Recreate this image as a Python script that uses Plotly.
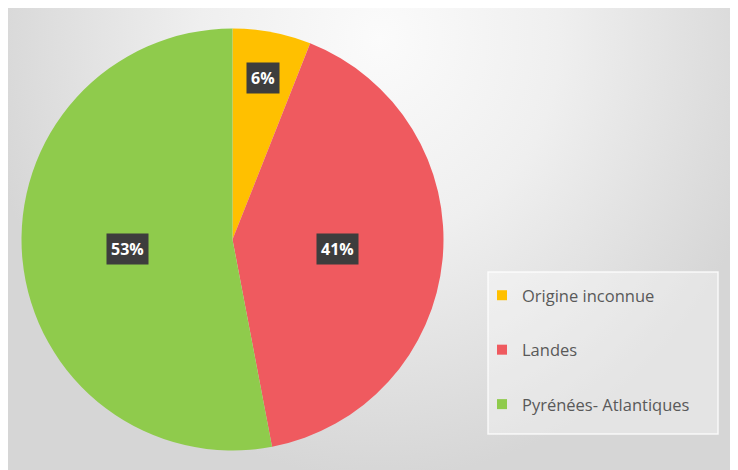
import math
import plotly.graph_objects as go

# data
labels = ["Origine inconnue", "Landes", "Pyrénées- Atlantiques"]
values = [6, 41, 53]
colors = ["#FFC000", "#EF5A5F", "#8FCB4C"]
pct_text = ["6%", "41%", "53%"]

W, H = 738, 470
cx_px, cy_px, r_px = 224.5, 231.5, 211

fig = go.Figure()

# background gradient (decoration only)
fig.add_trace(go.Scatter(
    x=[-0.038, 1.046, 1.046, -0.038, -0.038],
    y=[0, 0, 1.872, 1.872, 0],
    mode="none", fill="toself",
    fillgradient=dict(type="radial",
                      colorscale=[[0, "#fbfbfb"], [0.45, "#efefef"], [1, "#d6d6d6"]]),
    hoverinfo="skip", showlegend=False,
))

fig.add_trace(go.Pie(
    labels=labels, values=values,
    marker=dict(colors=colors, line=dict(width=0)),
    sort=False, direction="clockwise", rotation=0,
    textinfo="none", hoverinfo="label+percent",
    showlegend=False,
    domain=dict(x=[(cx_px - r_px) / W, (cx_px + r_px) / W],
                y=[1 - (cy_px + r_px) / H, 1 - (cy_px - r_px) / H]),
))

# legend entries
for lab, col in zip(labels, colors):
    fig.add_trace(go.Scatter(
        x=[None], y=[None], mode="markers", name=lab,
        marker=dict(symbol="square", size=10, color=col),
        legendgroup=lab,
    ))

# percentage boxes placed from slice angles
total = sum(values)
cum = 0
annotations = []
for v, t in zip(values, pct_text):
    theta = (cum + v / 2) / total * 2 * math.pi
    cum += v
    frac = 0.78 if v / total < 0.1 else 0.5
    x_px = cx_px + frac * r_px * math.sin(theta)
    y_px = cy_px - frac * r_px * math.cos(theta)
    annotations.append(dict(
        x=x_px / W, y=1 - y_px / H, xref="paper", yref="paper",
        xanchor="center", yanchor="middle",
        text="<b>%s</b>" % t, showarrow=False,
        font=dict(family="Open Sans", size=16, color="white"),
        bgcolor="#3d3d3d", borderpad=4,
    ))

fig.update_layout(
    width=W, height=H,
    margin=dict(l=0, r=0, t=0, b=0),
    paper_bgcolor="#e4e4e4", plot_bgcolor="rgba(0,0,0,0)",
    xaxis=dict(range=[0, 1], domain=[0, 1], visible=False, fixedrange=True),
    yaxis=dict(range=[0, 1], domain=[0, 1], visible=False, fixedrange=True),
    annotations=annotations,
    shapes=[dict(type="rect", xref="paper", yref="paper",
                 x0=480 / W, x1=710 / W, y0=1 - 426 / H, y1=1 - 264 / H,
                 fillcolor="rgba(255,255,255,0.35)",
                 line=dict(color="rgba(255,255,255,0.8)", width=1.5), layer="above")],
    legend=dict(x=474 / W, y=1 - 270 / H, xanchor="left", yanchor="top",
                bgcolor="rgba(0,0,0,0)", tracegroupgap=30,
                font=dict(family="Open Sans", size=16.5, color="#595959")),
)

fig.write_html("out.html")
